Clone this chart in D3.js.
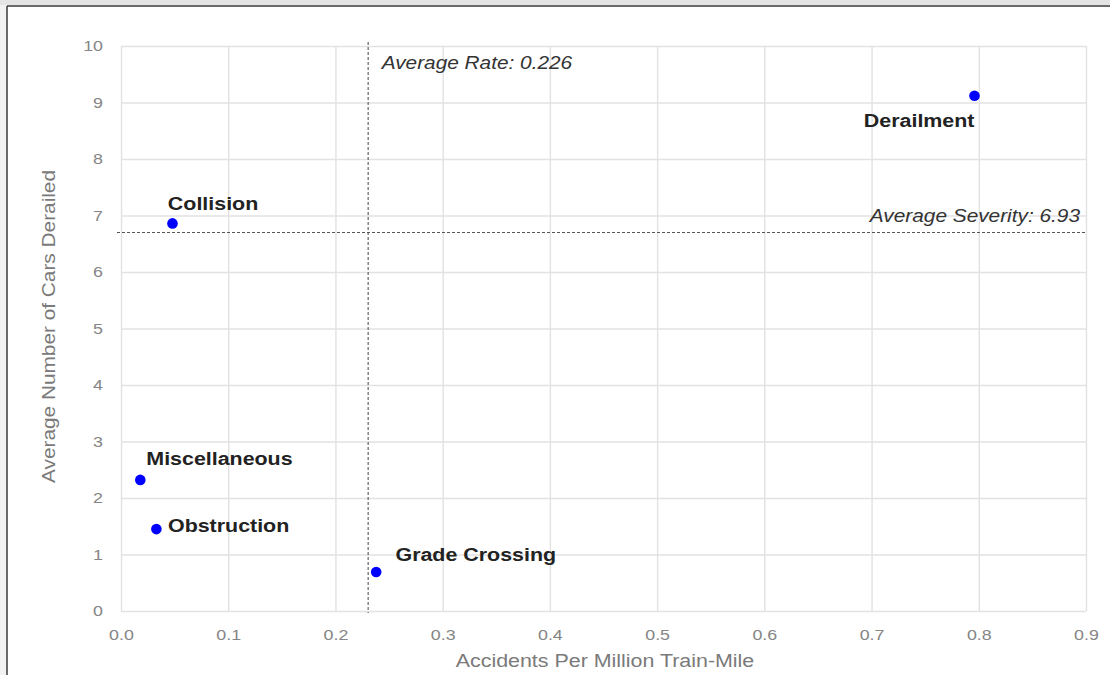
<!DOCTYPE html>
<html>
<head>
<meta charset="utf-8">
<script src="https://cdn.jsdelivr.net/npm/d3@7"></script>
<style>
  html, body { margin: 0; padding: 0; background: #ffffff; }
  svg { display: block; }
</style>
</head>
<body>
<script>
// ---------- data ----------
const categories = ["Derailment", "Collision", "Miscellaneous", "Obstruction", "Grade Crossing"];
const accidentRate = [0.796, 0.048, 0.018, 0.033, 0.238];   // accidents per million train-mile
const carsDerailed = [9.12, 6.86, 2.32, 1.45, 0.69];        // average number of cars derailed
const xTicks = [0, 0.1, 0.2, 0.3, 0.4, 0.5, 0.6, 0.7, 0.8, 0.9];
const xTickLabels = ["0.0", "0.1", "0.2", "0.3", "0.4", "0.5", "0.6", "0.7", "0.8", "0.9"];
const yTicks = [0, 1, 2, 3, 4, 5, 6, 7, 8, 9, 10];
const yTickLabels = ["0", "1", "2", "3", "4", "5", "6", "7", "8", "9", "10"];
const averageRateLine = 0.2305;      // position of the dashed line as drawn
const averageSeverityLine = 6.70;    // position of the dashed line as drawn
const averageRateText = "Average Rate: 0.226";
const averageSeverityText = "Average Severity: 6.93";
const xTitle = "Accidents Per Million Train-Mile";
const yTitle = "Average Number of Cars Derailed";

// ---------- layout / style ----------
const W = 1110, H = 675;
const plot = { left: 121, right: 1086, top: 46, bottom: 611 };
const SX = 1.19;            // horizontal stretch of the glyphs in the reference
const FONT = "'Liberation Sans', Arial, Helvetica, sans-serif";
const labelOffsets = {
  "Derailment":     { anchor: "end",   dx: 0,    dy: 31.5 },
  "Collision":      { anchor: "start", dx: -4.6, dy: -13 },
  "Miscellaneous":  { anchor: "start", dx: 6,    dy: -15 },
  "Obstruction":    { anchor: "start", dx: 11.6, dy: 2.7 },
  "Grade Crossing": { anchor: "start", dx: 19.3, dy: -11 }
};

const svg = d3.select("body").append("svg")
  .attr("width", W).attr("height", H)
  .style("font-family", FONT);

// frame of the screenshot
svg.append("rect").attr("x", 0).attr("y", 0).attr("width", W).attr("height", 5).attr("fill", "#e4e4e4");
svg.append("rect").attr("x", 0).attr("y", 5).attr("width", 6.5).attr("height", H - 5).attr("fill", "#f2f2f2");
svg.append("line").attr("x1", 7).attr("x2", W).attr("y1", 6).attr("y2", 6)
  .attr("stroke", "#3a3a3a").attr("stroke-width", 1.5);
svg.append("line").attr("x1", 7).attr("x2", 7).attr("y1", 6).attr("y2", H)
  .attr("stroke", "#3a3a3a").attr("stroke-width", 1.5);

const x = d3.scaleLinear().domain([0, 0.9]).range([plot.left, plot.right]);
const y = d3.scaleLinear().domain([0, 10]).range([plot.bottom, plot.top]);

function stretchedText(g, X, Y, str, anchor) {
  return g.append("text")
    .attr("transform", `translate(${X},${Y}) scale(${SX},1)`)
    .attr("text-anchor", anchor)
    .text(str);
}

// x axis with grid
const gx = svg.append("g")
  .attr("transform", `translate(0,${plot.bottom})`)
  .call(d3.axisBottom(x).tickValues(xTicks)
    .tickFormat((d, i) => xTickLabels[i])
    .tickSize(-(plot.bottom - plot.top)).tickPadding(18.5));
gx.select(".domain").remove();
gx.selectAll(".tick line").attr("stroke", "#e2e2e2").attr("stroke-width", 1.4);
gx.selectAll(".tick text")
  .attr("fill", "#858585").style("font-size", "15px").style("font-family", FONT)
  .attr("transform", `scale(${SX},1)`);

// y axis with grid
const gy = svg.append("g")
  .attr("transform", `translate(${plot.left},0)`)
  .call(d3.axisLeft(y).tickValues(yTicks)
    .tickFormat((d, i) => yTickLabels[i])
    .tickSize(-(plot.right - plot.left)).tickPadding(18));
gy.select(".domain").remove();
gy.selectAll(".tick line").attr("stroke", "#e2e2e2").attr("stroke-width", 1.4);
gy.selectAll(".tick text")
  .attr("fill", "#858585").style("font-size", "15px").style("font-family", FONT)
  .attr("x", -18 / SX)
  .attr("transform", `scale(${SX},1)`);

// average lines
svg.append("line")
  .attr("x1", x(averageRateLine)).attr("x2", x(averageRateLine))
  .attr("y1", plot.top - 4).attr("y2", plot.bottom + 2)
  .attr("stroke", "#555").attr("stroke-width", 1.1).attr("stroke-dasharray", "3,2");
svg.append("line")
  .attr("x1", plot.left - 4).attr("x2", plot.right)
  .attr("y1", y(averageSeverityLine)).attr("y2", y(averageSeverityLine))
  .attr("stroke", "#555").attr("stroke-width", 1.1).attr("stroke-dasharray", "3,2");

const ann = svg.append("g").attr("fill", "#333").style("font-size", "17.5px").style("font-style", "italic");
stretchedText(ann, x(averageRateLine) + 13.5, 68.5, averageRateText, "start");
stretchedText(ann, plot.right - 6, 221.5, averageSeverityText, "end");

// points
const pts = categories.map((c, i) => ({ name: c, rx: accidentRate[i], ry: carsDerailed[i] }));
svg.append("g").selectAll("circle").data(pts).join("circle")
  .attr("cx", d => x(d.rx)).attr("cy", d => y(d.ry)).attr("r", 5.3)
  .attr("fill", "#0000ff");

// point labels
const lab = svg.append("g").attr("fill", "#222").style("font-size", "18px").style("font-weight", "bold");
pts.forEach(d => {
  const o = labelOffsets[d.name];
  stretchedText(lab, x(d.rx) + o.dx, y(d.ry) + o.dy, d.name, o.anchor);
});

// axis titles
const titles = svg.append("g").attr("fill", "#7a7a7a").style("font-size", "18px");
stretchedText(titles, (plot.left + plot.right) / 2 + 1.5, 667, xTitle, "middle");
titles.append("text")
  .attr("transform", `translate(55,${(plot.top + plot.bottom) / 2 - 2}) rotate(-90) scale(${SX},1)`)
  .attr("text-anchor", "middle")
  .style("font-size", "17.5px")
  .text(yTitle);
</script>
</body>
</html>
